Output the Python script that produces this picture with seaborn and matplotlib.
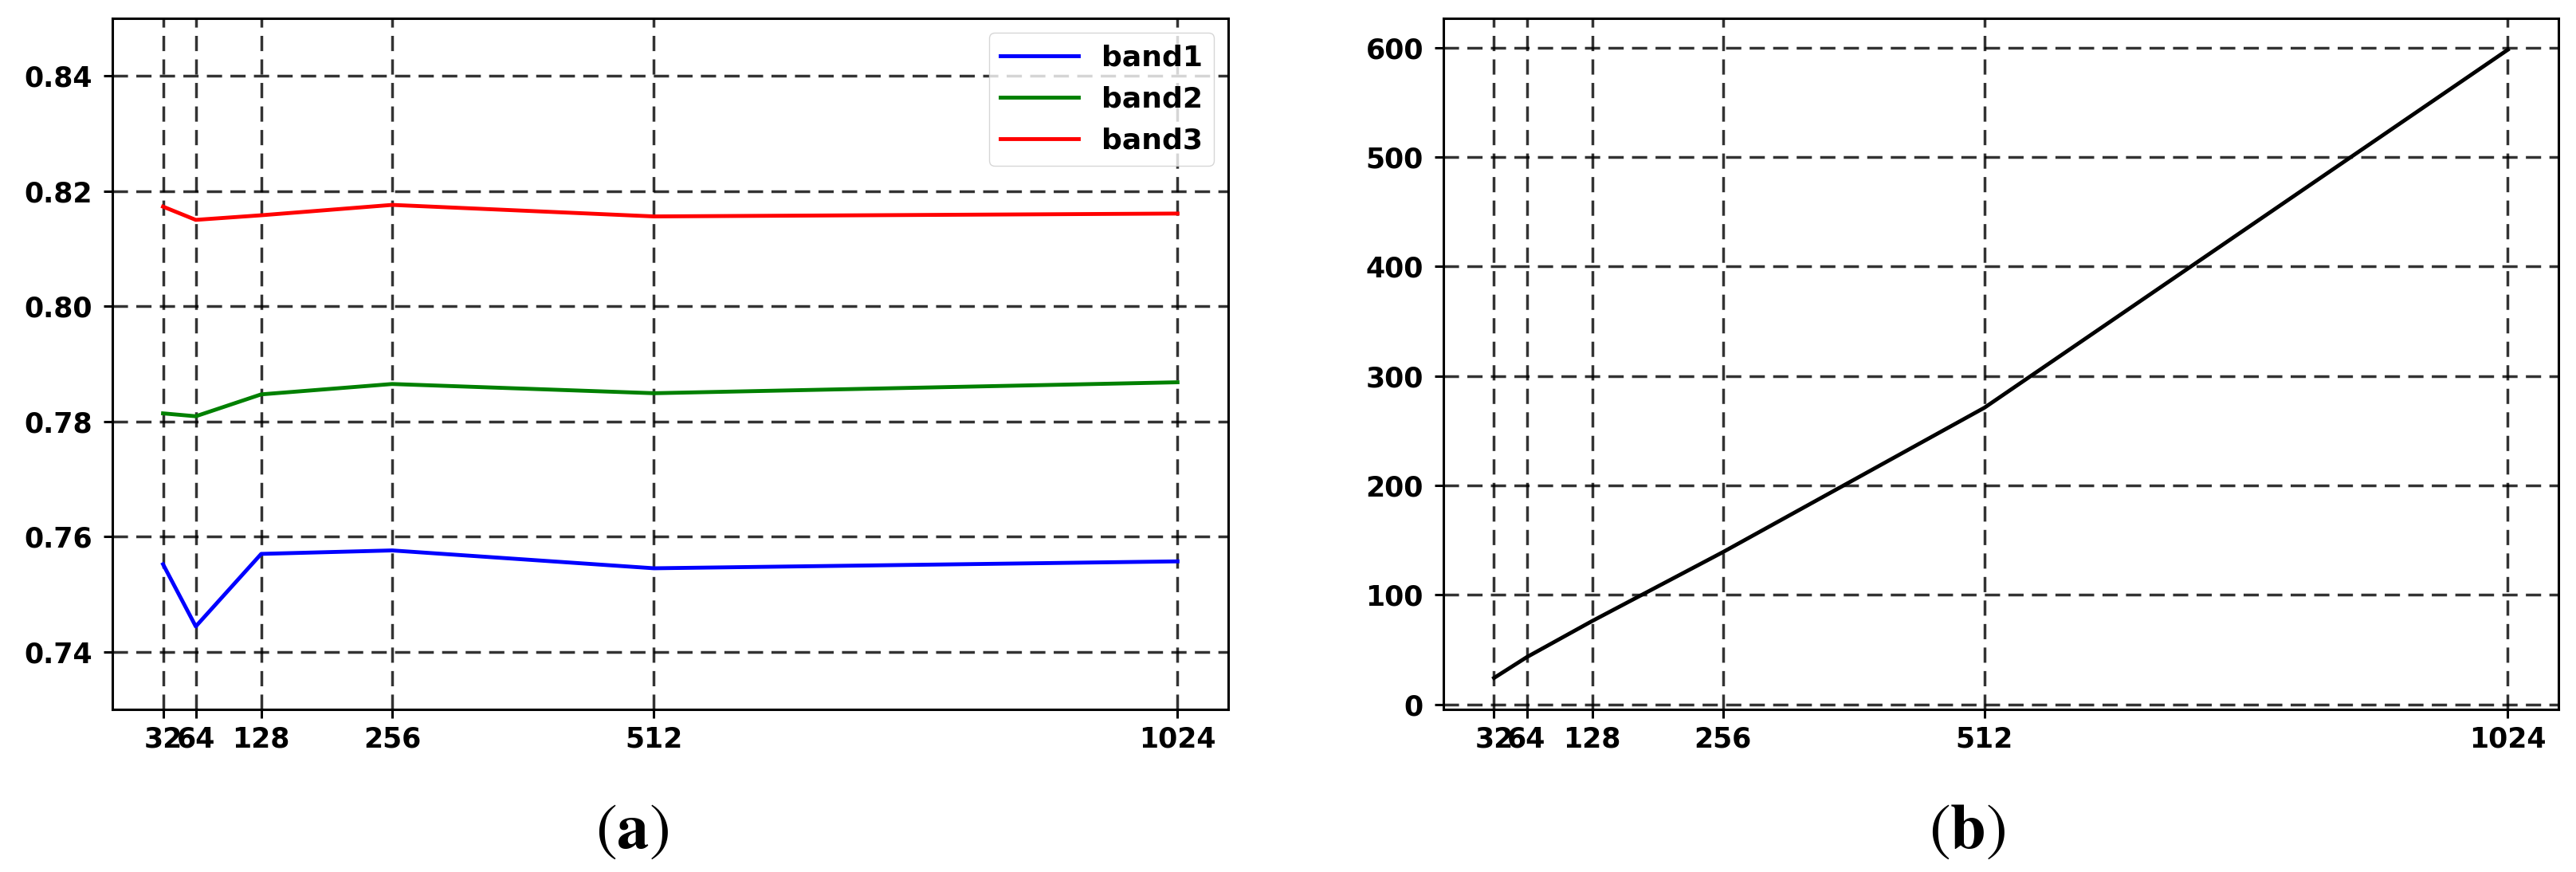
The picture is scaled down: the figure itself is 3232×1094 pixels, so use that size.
import numpy as np
import pandas as pd
import seaborn as sns
import matplotlib
matplotlib.use("Agg")
import matplotlib.pyplot as plt

# data
sizes = [32, 64, 128, 256, 512, 1024]
band1 = [0.7552, 0.7444, 0.7570, 0.7576, 0.7545, 0.7557]
band2 = [0.7814, 0.7809, 0.7847, 0.7865, 0.7849, 0.7868]
band3 = [0.8173, 0.8150, 0.8158, 0.8176, 0.8156, 0.8161]
time_cost = [24, 43, 76, 139, 271, 598]
band_names = ["band1", "band2", "band3"]
band_colors = {"band1": "blue", "band2": "green", "band3": "red"}

plt.rcParams["mathtext.fontset"] = "stix"
plt.rcParams["font.family"] = ["DejaVu Sans"]

df = pd.DataFrame({
    "size": sizes * 3,
    "value": band1 + band2 + band3,
    "band": [b for b in band_names for _ in sizes],
})
df_time = pd.DataFrame({"size": sizes, "time": time_cost})

fig = plt.figure(figsize=(32.32, 10.94), dpi=100)
ax1 = fig.add_axes([0.0436, 0.1865, 0.4332, 0.7925])
ax2 = fig.add_axes([0.5603, 0.1865, 0.4329, 0.7925])

grid_kw = dict(color="k", linestyle=(0, (5.5, 3)), linewidth=2.5, alpha=0.8)

# (a) accuracy per band
sns.lineplot(data=df, x="size", y="value", hue="band", palette=band_colors,
             linewidth=3.5, ax=ax1)
ax1.set_ylim(0.73, 0.85)
ax1.set_yticks(np.arange(0.74, 0.845, 0.02))
ax1.legend(loc="upper right", prop={"weight": "bold", "size": 26},
           handlelength=2.7, borderaxespad=0.5)
for line in ax1.get_legend().get_lines():
    line.set_linewidth(3.5)

# (b) time cost
sns.lineplot(data=df_time, x="size", y="time", color="k", linewidth=3.5, ax=ax2)
ax2.set_yticks(range(0, 700, 100))

for ax in (ax1, ax2):
    ax.set_xticks(sizes)
    ax.set_xlabel("")
    ax.set_ylabel("")
    ax.grid(True, **grid_kw)
    ax.tick_params(labelsize=25, length=8, width=2.2)
    ax.tick_params(axis="x", pad=7)
    ax.tick_params(axis="y", pad=10)
    for lbl in ax.get_xticklabels() + ax.get_yticklabels():
        lbl.set_fontweight("bold")
    for sp in ax.spines.values():
        sp.set_linewidth(2.2)
        sp.set_color("k")

fig.text(0.2453, 0.048, r"$(\mathbf{a})$", fontsize=58, ha="center", va="center")
fig.text(0.7637, 0.048, r"$(\mathbf{b})$", fontsize=58, ha="center", va="center")

fig.savefig("out.png", dpi=100)
